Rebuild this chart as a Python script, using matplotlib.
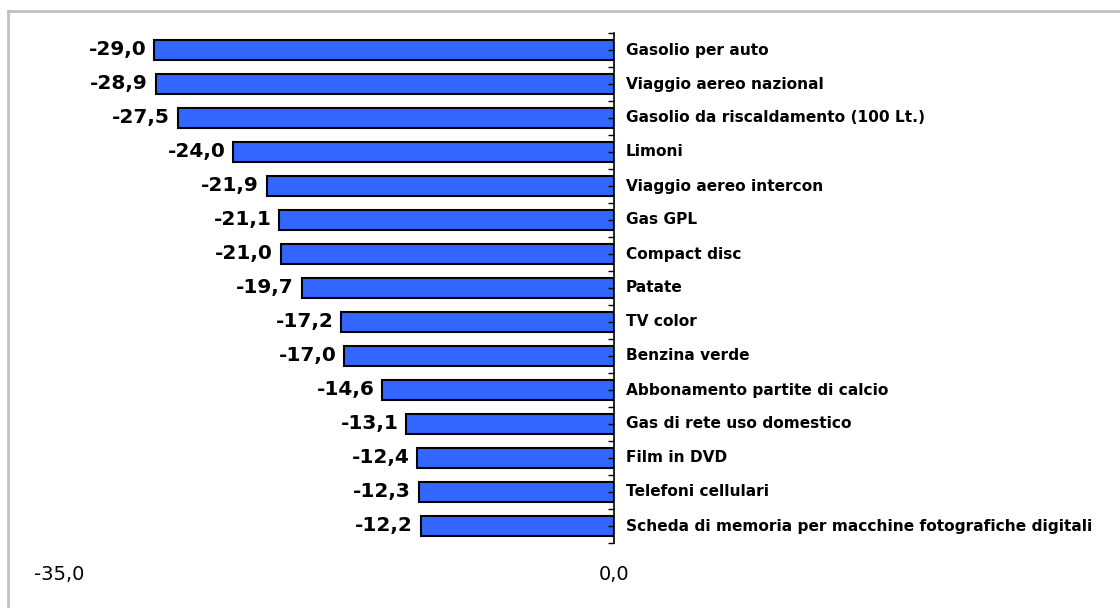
import matplotlib.pyplot as plt
from matplotlib.lines import Line2D
from matplotlib.ticker import FixedLocator

# categories and their price changes (%)
items = [
    "Gasolio per auto",
    "Viaggio aereo nazional",
    "Gasolio da riscaldamento (100 Lt.)",
    "Limoni",
    "Viaggio aereo intercon",
    "Gas GPL",
    "Compact disc",
    "Patate",
    "TV color",
    "Benzina verde",
    "Abbonamento partite di calcio",
    "Gas di rete uso domestico",
    "Film in DVD",
    "Telefoni cellulari",
    "Scheda di memoria per macchine fotografiche digitali",
]
changes = [-29.0, -28.9, -27.5, -24.0, -21.9, -21.1, -21.0, -19.7,
           -17.2, -17.0, -14.6, -13.1, -12.4, -12.3, -12.2]
x_ticks = [-35, 0]
x_tick_labels = ["-35,0", "0,0"]

plt.rcParams['font.family'] = ['DejaVu Sans']

fig = plt.figure(figsize=(11.2, 6.08), dpi=100)
ax = fig.add_axes([59 / 1120, 65 / 608, 555 / 1120, 510 / 608])

pos = list(range(len(items)))
ax.barh(pos, changes, height=0.56, color="#3366ff", edgecolor="black", linewidth=1.5)

ax.set_xlim(-35, 0)
ax.set_ylim(len(items) - 0.5, -0.5)

for s in ["top", "bottom", "left"]:
    ax.spines[s].set_visible(False)
ax.spines["right"].set_linewidth(1.2)

ax.yaxis.tick_right()
ax.yaxis.set_major_locator(FixedLocator([p - 0.5 for p in pos] + [len(items) - 0.5]))
ax.yaxis.set_minor_locator(FixedLocator(pos))
ax.tick_params(axis="y", which="both", direction="in", length=4, width=1,
               labelright=False, labelleft=False)

ax.set_xticks(x_ticks)
ax.set_xticklabels(x_tick_labels, fontsize=14)
ax.tick_params(axis="x", length=0, pad=16)

for i, (name, v) in enumerate(zip(items, changes)):
    ax.text(0.75, i, name, ha="left", va="center", fontsize=11.1,
            fontweight="bold", clip_on=False)
    label = f"{v:.1f}".replace(".", ",")
    ax.text(v - 0.5, i, label, ha="right", va="center", fontsize=14.5,
            fontweight="bold")

# light grey frame edges (top and left) around the chart
fig.lines.append(Line2D([8 / 1120, 1], [1 - 11 / 608, 1 - 11 / 608],
                        transform=fig.transFigure, color="#c0c0c0", linewidth=2))
fig.lines.append(Line2D([8 / 1120, 8 / 1120], [0, 1 - 11 / 608],
                        transform=fig.transFigure, color="#c0c0c0", linewidth=2))

fig.savefig("out.png", dpi=100)
